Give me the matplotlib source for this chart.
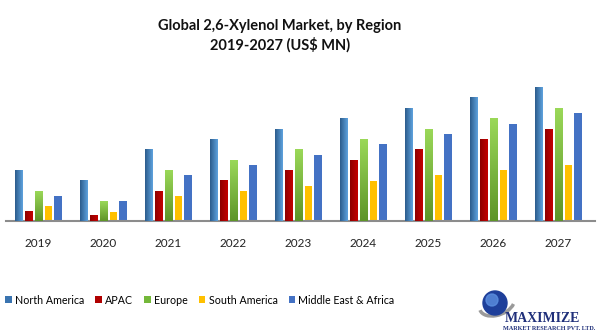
import numpy as np
import matplotlib
matplotlib.use("Agg")
import matplotlib.pyplot as plt
from matplotlib.patches import Patch, Circle, Arc
from matplotlib.colors import LinearSegmentedColormap

plt.rcParams['font.family'] = ['Lato', 'DejaVu Sans']

years = ["2019", "2020", "2021", "2022", "2023", "2024", "2025", "2026", "2027"]
regions = ["North America", "APAC", "Europe", "South America", "Middle East & Africa"]

north_america = [51, 41, 72, 82, 92, 103, 113, 124, 134]
apac = [10, 6, 30, 41, 51, 61, 72, 82, 92]
europe = [30, 20, 51, 61, 72, 82, 92, 103, 113]
south_america = [15, 9, 25, 30, 35, 40, 46, 51, 56]
mea = [25, 20, 46, 56, 66, 77, 87, 97, 108]

series = [north_america, apac, europe, south_america, mea]
legend_colors = ["#3A74B0", "#B00000", "#74B83A", "#FFC000", "#4472C4"]
# (start, end, direction) for gradient fills; None means flat colour
gradients = [
    ("#2C5C8C", "#5EA2DE", "h"),
    ("#8E0000", "#C40000", "h"),
    ("#5E9428", "#9AD858", "v"),
    None,
    None,
]

W, H = 605, 334
fig = plt.figure(figsize=(W / 100, H / 100), dpi=100)

base_px = 221
top_px = 71
left_px, right_px = 6, 595
ax = fig.add_axes([left_px / W, (H - base_px) / H,
                   (right_px - left_px) / W, (base_px - top_px) / H])
n = len(years)
x = np.arange(n)
xlim = (-0.5, -0.5 + (right_px - left_px) / 65.0)

offsets = [-0.3, -0.15, 0.0, 0.15, 0.3]
width = 0.11
for vals, off, col, grad in zip(series, offsets, legend_colors, gradients):
    bars = ax.bar(x + off, vals, width=width, color=col, zorder=2, linewidth=0)
    if grad is None:
        continue
    c0, c1, d = grad
    cmap = LinearSegmentedColormap.from_list("g", [c0, c1])
    if d == "h":
        img = np.linspace(0, 1, 32).reshape(1, -1)
    else:
        img = np.linspace(1, 0, 64).reshape(-1, 1)
    for b in bars:
        x0, y0 = b.get_x(), b.get_y()
        ax.imshow(img, cmap=cmap, aspect="auto", zorder=3,
                  extent=(x0, x0 + b.get_width(), y0, y0 + b.get_height()),
                  origin="lower" if d == "h" else "upper", interpolation="bilinear")
ax.set_xlim(*xlim)
ax.set_ylim(0, base_px - top_px)

for s in ["top", "right", "left"]:
    ax.spines[s].set_visible(False)
ax.spines["bottom"].set_color("#8C8C8C")
ax.spines["bottom"].set_linewidth(1.5)
ax.set_yticks([])
ax.set_xticks(x)
ax.set_xticklabels(years, fontsize=8.5, color="#222222")
ax.tick_params(axis="x", length=0, pad=12)

fig.text(280 / W, 1 - 26 / H, "Global 2,6-Xylenol Market, by Region",
         ha="center", va="center", fontsize=10.5, fontweight="bold", color="#111111")
fig.text(280 / W, 1 - 45 / H, "2019-2027 (US$ MN)",
         ha="center", va="center", fontsize=10.5, fontweight="bold", color="#111111")

handles = [Patch(facecolor=c, edgecolor="none") for c in legend_colors]
fig.legend(handles, regions, loc="center left", bbox_to_anchor=(0 / W, 1 - 300 / H),
           ncol=5, frameon=False, fontsize=7.7, handlelength=0.6, handleheight=0.6,
           handletextpad=0.3, columnspacing=1.05, borderpad=0.2, borderaxespad=0.3)

# company logo
lax = fig.add_axes([470 / W, 0, 135 / W, 52 / H])
lax.set_xlim(0, 135)
lax.set_ylim(0, 52)
lax.axis("off")
lax.add_patch(Arc((27, 30), 36, 22, angle=20, theta1=180, theta2=340,
                  color="#9A9A9A", lw=2.5))
lax.add_patch(Circle((25, 31), 12, color="#1E3F9A"))
lax.add_patch(Circle((22, 34), 6, color="#5C8FE0", alpha=0.8))
lax.text(35, 15, "MAXIMIZE", fontsize=10, fontweight="bold", color="#1F2F7A",
         family="Liberation Serif", va="center", ha="left")
lax.text(33, 5, "MARKET RESEARCH PVT. LTD.", fontsize=4.4, fontweight="bold",
         color="#1F2F7A", family="Liberation Serif", va="center", ha="left")

fig.savefig("out.png", dpi=100)
